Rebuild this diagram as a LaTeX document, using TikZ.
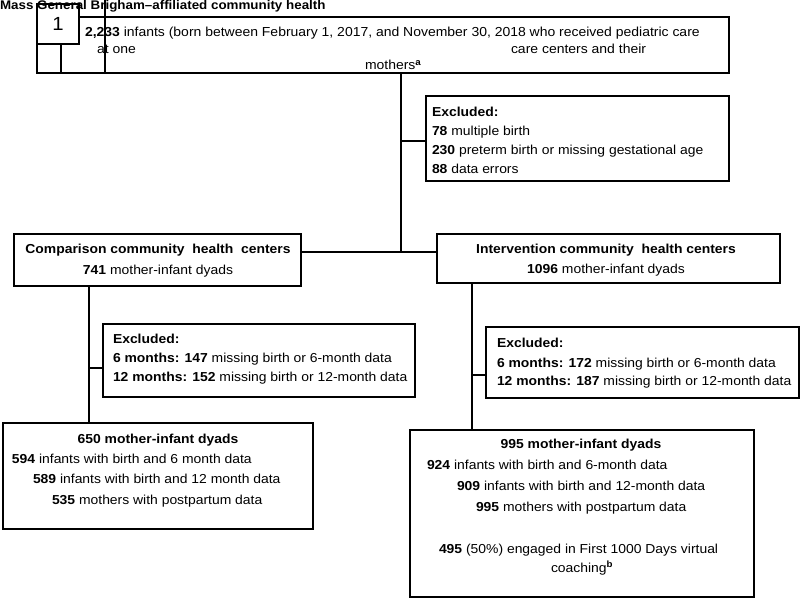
\documentclass[tikz,border=0pt]{standalone}
\usepackage{fontspec}
\setmainfont{Liberation Sans}[FakeStretch=1.07]
\begin{document}
\begin{tikzpicture}[x=1pt,y=-1pt,
  box/.style={draw=black,line width=1.2pt,fill=white,inner sep=0pt,outer sep=0pt,anchor=north west},
  conn/.style={draw=black,line width=2.2pt},
  txt/.style={inner sep=0pt,outer sep=0pt,anchor=base west,font=\fontsize{13}{15}\selectfont},
  ttxt/.style={txt,font=\fontsize{13.05}{16}\selectfont},
  ctxt/.style={txt,anchor=base}]
\useasboundingbox[fill=white] (0,0) rectangle (800,602);
% boxes
\node[box,minimum width=692pt,minimum height=56pt] (top) at (37,17) {};
\node[box,minimum width=42pt,minimum height=40pt] (one) at (37,4) {};
\node[font=\fontsize{19}{19}\selectfont] (onet) at (one.center) {1};
\node[box,minimum width=303pt,minimum height=85pt] (ex1) at (426,96) {};
\node[box,minimum width=287pt,minimum height=52pt] (comp) at (14,234) {};
\node[box,minimum width=343pt,minimum height=49pt] (interv) at (437,234) {};
\node[box,minimum width=312pt,minimum height=73pt] (exL) at (103,324) {};
\node[box,minimum width=313pt,minimum height=71pt] (exR) at (486,327) {};
\node[box,minimum width=310pt,minimum height=106pt] (resL) at (3,423) {};
\node[box,minimum width=344pt,minimum height=167pt] (resR) at (410,430) {};
% extra rules of the top-left marker
\coordinate (v1) at (105,0);
\coordinate (v2) at (61,0);
\draw[line width=1.2pt] (v1) -- (v1 |- top.south);
\draw[line width=1.2pt] (one.south -| v2) -- (v2 |- top.south);
% connectors
\coordinate (m1) at (401,141);
\coordinate (m2) at (401,252);
\coordinate (l1) at (89,368);
\coordinate (r1) at (472,375);
\draw[conn] (top.south -| m1) -- (m2);
\draw[conn] (m1) -- (ex1.west |- m1);
\draw[conn] (comp.east |- m2) -- (interv.west |- m2);
\draw[conn] (comp.south -| l1) -- (resL.north -| l1);
\draw[conn] (l1) -- (exL.west |- l1);
\draw[conn] (interv.south -| r1) -- (resR.north -| r1);
\draw[conn] (r1) -- (exR.west |- r1);
% title
\node[txt,font=\fontsize{12.5}{15}\selectfont\bfseries] (title) at (0,10) {Mass General Brigham–affiliated community health};
% top box text
\node[ttxt] (a1) at (85,37) {\textbf{2,233} infants (born between February 1, 2017, and November 30, 2018 who received pediatric care};
\node[ttxt] (a2) at (97,53) {at one};
\node[ttxt] (a3) at (511,53) {care centers and their};
\node[ttxt] (a4) at (365,70) {mothers\textsuperscript{\textbf{a}}};
% excluded 1
\node[txt] (b1) at (432,116) {\textbf{Excluded:}};
\node[txt] (b2) at (432,135) {\textbf{78} multiple birth};
\node[txt] (b3) at (432,154) {\textbf{230} preterm birth or missing gestational age};
\node[txt] (b4) at (432,173) {\textbf{88} data errors};
% comparison
\node[ctxt] (c1) at (158,253) {\textbf{Comparison community\ \ health\ \ centers}};
\node[ctxt] (c2) at (158,274) {\textbf{741} mother-infant dyads};
% intervention
\node[ctxt] (d1) at (606,253) {\textbf{Intervention community\ \ health centers}};
\node[ctxt] (d2) at (606,273) {\textbf{1096} mother-infant dyads};
% excluded left
\node[txt] (e1) at (113,343) {\textbf{Excluded:}};
\node[txt] (e2) at (113,362) {\textbf{6 months: 147} missing birth or 6-month data};
\node[txt] (e3) at (113,381) {\textbf{12 months: 152} missing birth or 12-month data};
% excluded right
\node[txt] (f1) at (497,347) {\textbf{Excluded:}};
\node[txt] (f2) at (497,367) {\textbf{6 months: 172} missing birth or 6-month data};
\node[txt] (f3) at (497,385) {\textbf{12 months: 187} missing birth or 12-month data};
% result left
\node[ctxt] (g1) at (158,443) {\textbf{650 mother-infant dyads}};
\node[txt] (g2) at (12,463) {\textbf{594} infants with birth and 6 month data};
\node[txt] (g3) at (33,483) {\textbf{589} infants with birth and 12 month data};
\node[txt] (g4) at (52,504) {\textbf{535} mothers with postpartum data};
% result right
\node[ctxt] (h1) at (581,448) {\textbf{995 mother-infant dyads}};
\node[txt] (h2) at (427,469) {\textbf{924} infants with birth and 6-month data};
\node[txt] (h3) at (457,490) {\textbf{909} infants with birth and 12-month data};
\node[txt] (h4) at (476,511) {\textbf{995} mothers with postpartum data};
\node[txt] (h5) at (439,553) {\textbf{495} (50\%) engaged in First 1000 Days virtual};
\node[txt] (h6) at (551,572) {coaching\textsuperscript{\textbf{b}}};
\end{tikzpicture}
\end{document}
